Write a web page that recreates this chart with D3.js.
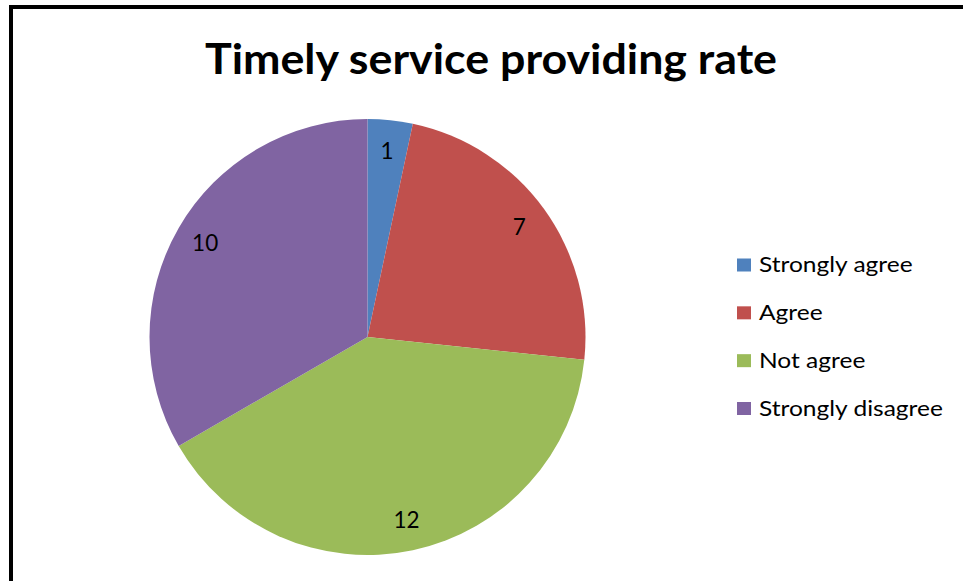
<!DOCTYPE html>
<html>
<head>
<meta charset="utf-8">
<script src="https://cdn.jsdelivr.net/npm/d3@7"></script>
<style>
  html, body { margin: 0; padding: 0; background: #fff; }
  svg { display: block; }
</style>
</head>
<body>
<svg id="chart" width="963" height="581"></svg>
<script>
// Survey answers on timely service
const categories = ["Strongly agree", "Agree", "Not agree", "Strongly disagree"];
const counts = [1, 7, 12, 10];
const colors = ["#4F81BD", "#C0504D", "#9BBB59", "#8064A2"];
const title = "Timely service providing rate";

const svg = d3.select("#chart");
const W = 963, H = 581;
const font = "Lato, 'Open Sans', sans-serif";

svg.append("rect").attr("width", W).attr("height", H).attr("fill", "#fff");

// Outer frame (right and bottom edges run off the page)
svg.append("rect")
  .attr("x", 11).attr("y", 7)
  .attr("width", 1000).attr("height", 1000)
  .attr("fill", "none").attr("stroke", "#000").attr("stroke-width", 4);

// Title
svg.append("text")
  .attr("x", 491).attr("y", 73.5)
  .attr("text-anchor", "middle")
  .attr("font-family", font).attr("font-weight", 700)
  .attr("font-size", 41.5)
  .attr("textLength", 572).attr("lengthAdjust", "spacingAndGlyphs")
  .attr("fill", "#000")
  .text(title);

// Pie
const cx = 367.5, cy = 337, r = 218;
const data = categories.map((c, i) => ({ category: c, value: counts[i], color: colors[i] }));
const pie = d3.pie().value(d => d.value).sort(null);
const arcs = pie(data);
const arc = d3.arc().innerRadius(0).outerRadius(r);
const labelArc = d3.arc().innerRadius(r * 0.86).outerRadius(r * 0.86);

const g = svg.append("g").attr("transform", `translate(${cx},${cy})`);
g.selectAll("path.slice")
  .data(arcs)
  .join("path")
  .attr("class", "slice")
  .attr("d", arc)
  .attr("fill", d => d.data.color);

g.selectAll("text.value")
  .data(arcs)
  .join("text")
  .attr("class", "value")
  .attr("transform", d => `translate(${labelArc.centroid(d)})`)
  .attr("text-anchor", "middle")
  .attr("dy", "0.36em")
  .attr("font-family", font)
  .attr("font-size", 22.5)
  .attr("fill", "#000")
  .text(d => d.data.value);

// Legend
const legendY = d3.scalePoint().domain(categories).range([265, 408.5]);
const legend = svg.append("g");
const items = legend.selectAll("g.item")
  .data(data)
  .join("g")
  .attr("class", "item")
  .attr("transform", d => `translate(737,${legendY(d.category)})`);
items.append("rect")
  .attr("x", 0).attr("y", -6.5)
  .attr("width", 14).attr("height", 13)
  .attr("fill", d => d.color);
const labels = items.append("text")
  .attr("x", 0).attr("y", 0)
  .attr("dy", "0.36em")
  .attr("font-family", font)
  .attr("font-size", 20.5)
  .attr("fill", "#000")
  .text(d => d.category);

// Widen the legend labels so the longest one spans the legend column
const labelSpan = 184;
let widest = 0;
labels.each(function () { widest = Math.max(widest, this.getComputedTextLength()); });
const sx = widest > 0 ? labelSpan / widest : 1;
labels.attr("transform", `translate(22,0) scale(${sx},1)`);
</script>
</body>
</html>
